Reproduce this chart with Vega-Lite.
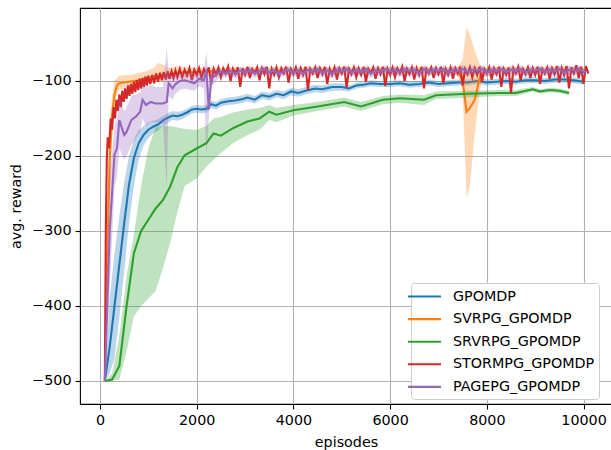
{
"$schema": "https://vega.github.io/schema/vega-lite/v6.json",
"width": 532, "height": 396,
"autosize": {"type": "none"},
"padding": {"left": 80, "top": 8, "right": 0, "bottom": 46},
"config": {
 "font": "DejaVu Sans",
 "view": {"stroke": "black", "strokeWidth": 1.1},
 "axis": {"grid": true, "gridColor": "#b0b0b0", "gridWidth": 1.1, "domain": false, "tickColor": "black", "tickWidth": 1.1, "tickSize": 5, "labelFontSize": 14.3, "labelColor": "black", "labelPadding": 4, "titleFontSize": 14.3, "titleFontWeight": "normal", "titleColor": "black"}
},
"datasets": {
 "gp": [
  {"x":100,"y":-500,"lo":-500,"hi":-500},{"x":200,"y":-455,"lo":-490,"hi":-390},{"x":300,"y":-400,"lo":-470,"hi":-330},{"x":400,"y":-345,"lo":-415,"hi":-280},{"x":500,"y":-290,"lo":-355,"hi":-235},{"x":600,"y":-238,"lo":-290,"hi":-200},{"x":700,"y":-203,"lo":-240,"hi":-178},{"x":800,"y":-183,"lo":-205,"hi":-166},{"x":900,"y":-172,"lo":-186,"hi":-160},{"x":1000,"y":-165,"lo":-176,"hi":-155},{"x":1100,"y":-161,"lo":-170,"hi":-153},{"x":1200,"y":-158,"lo":-166,"hi":-151},{"x":1300,"y":-153,"lo":-160,"hi":-147},{"x":1400,"y":-149,"lo":-156,"hi":-143},{"x":1500,"y":-146,"lo":-152,"hi":-140},{"x":1600,"y":-147,"lo":-153,"hi":-141},{"x":1700,"y":-145,"lo":-151,"hi":-140},{"x":1800,"y":-142,"lo":-147,"hi":-137},{"x":1900,"y":-138,"lo":-143,"hi":-133},{"x":2000,"y":-137,"lo":-142,"hi":-132},{"x":2100,"y":-138,"lo":-143,"hi":-133},{"x":2200,"y":-137,"lo":-142,"hi":-132},{"x":2300,"y":-131,"lo":-136,"hi":-126},{"x":2400,"y":-133,"lo":-138,"hi":-128},{"x":2500,"y":-129,"lo":-134,"hi":-124},{"x":2650,"y":-127,"lo":-132,"hi":-122},{"x":2800,"y":-126,"lo":-131,"hi":-121},{"x":2950,"y":-124,"lo":-129,"hi":-119},{"x":3050,"y":-122,"lo":-127,"hi":-117},{"x":3200,"y":-125,"lo":-130,"hi":-120},{"x":3350,"y":-119,"lo":-124,"hi":-114},{"x":3500,"y":-121,"lo":-126,"hi":-116},{"x":3650,"y":-117,"lo":-122,"hi":-112},{"x":3800,"y":-119,"lo":-124,"hi":-114},{"x":3950,"y":-114,"lo":-119,"hi":-109},{"x":4100,"y":-116,"lo":-121,"hi":-111},{"x":4250,"y":-113,"lo":-118,"hi":-108},{"x":4450,"y":-110,"lo":-115,"hi":-105},{"x":4600,"y":-111,"lo":-116,"hi":-106},{"x":4800,"y":-108,"lo":-113,"hi":-103},{"x":5000,"y":-108,"lo":-113,"hi":-103},{"x":5150,"y":-110,"lo":-114,"hi":-106},{"x":5300,"y":-106,"lo":-110,"hi":-102},{"x":5450,"y":-105,"lo":-109,"hi":-101},{"x":5600,"y":-103,"lo":-107,"hi":-99},{"x":5800,"y":-104,"lo":-108,"hi":-100},{"x":6000,"y":-104,"lo":-108,"hi":-100},{"x":6200,"y":-103,"lo":-107,"hi":-99},{"x":6400,"y":-105,"lo":-109,"hi":-101},{"x":6600,"y":-104,"lo":-108,"hi":-100},{"x":6800,"y":-102,"lo":-106,"hi":-98},{"x":7000,"y":-104,"lo":-108,"hi":-100},{"x":7200,"y":-103,"lo":-107,"hi":-99},{"x":7400,"y":-102,"lo":-106,"hi":-98},{"x":7600,"y":-102,"lo":-106,"hi":-98},{"x":7800,"y":-100,"lo":-104,"hi":-96},{"x":8000,"y":-102,"lo":-106,"hi":-98},{"x":8200,"y":-101,"lo":-105,"hi":-97},{"x":8400,"y":-100,"lo":-104,"hi":-96},{"x":8600,"y":-101,"lo":-105,"hi":-97},{"x":8800,"y":-99,"lo":-103,"hi":-95},{"x":9000,"y":-99,"lo":-103,"hi":-95},{"x":9200,"y":-100,"lo":-104,"hi":-96},{"x":9400,"y":-98,"lo":-102,"hi":-94},{"x":9600,"y":-98,"lo":-102,"hi":-94},{"x":9800,"y":-99,"lo":-103,"hi":-95},{"x":10000,"y":-101,"lo":-105,"hi":-97}
 ],
 "sv": [
  {"x":100,"y":-500,"lo":-500,"hi":-500},{"x":150,"y":-330,"lo":-400,"hi":-260},{"x":200,"y":-205,"lo":-260,"hi":-160},{"x":250,"y":-145,"lo":-175,"hi":-120},{"x":300,"y":-118,"lo":-135,"hi":-100},{"x":350,"y":-106,"lo":-118,"hi":-96},{"x":400,"y":-103,"lo":-112,"hi":-93},{"x":500,"y":-102,"lo":-110,"hi":-92},{"x":600,"y":-101,"lo":-109,"hi":-92},{"x":700,"y":-100,"lo":-108,"hi":-91},{"x":800,"y":-99,"lo":-106,"hi":-89},{"x":900,"y":-97,"lo":-105,"hi":-88},{"x":1000,"y":-96,"lo":-104,"hi":-86},{"x":1100,"y":-94,"lo":-102,"hi":-83},{"x":1200,"y":-93,"lo":-101,"hi":-76},{"x":1300,"y":-92,"lo":-100,"hi":-78},{"x":1400,"y":-91,"lo":-98,"hi":-82},{"x":1500,"y":-90,"lo":-97,"hi":-82},{"x":1600,"y":-89,"lo":-96,"hi":-80},{"x":1800,"y":-88,"lo":-95,"hi":-82},{"x":2000,"y":-88,"lo":-94,"hi":-82},{"x":2250,"y":-87,"lo":-93,"hi":-82},{"x":2500,"y":-88,"lo":-93,"hi":-83},{"x":2750,"y":-86,"lo":-91,"hi":-81},{"x":3000,"y":-87,"lo":-92,"hi":-82},{"x":3250,"y":-86,"lo":-91,"hi":-81},{"x":3500,"y":-87,"lo":-92,"hi":-82},{"x":3750,"y":-86,"lo":-91,"hi":-81},{"x":4000,"y":-87,"lo":-92,"hi":-82},{"x":4250,"y":-86,"lo":-91,"hi":-81},{"x":4500,"y":-86,"lo":-91,"hi":-81},{"x":4750,"y":-87,"lo":-92,"hi":-82},{"x":5000,"y":-86,"lo":-91,"hi":-81},{"x":5250,"y":-86,"lo":-91,"hi":-81},{"x":5500,"y":-87,"lo":-92,"hi":-82},{"x":5750,"y":-86,"lo":-91,"hi":-81},{"x":6000,"y":-86,"lo":-91,"hi":-81},{"x":6250,"y":-87,"lo":-92,"hi":-82},{"x":6500,"y":-86,"lo":-91,"hi":-81},{"x":6750,"y":-86,"lo":-91,"hi":-81},{"x":7000,"y":-87,"lo":-92,"hi":-82},{"x":7250,"y":-86,"lo":-91,"hi":-81},{"x":7400,"y":-87,"lo":-93,"hi":-80},{"x":7500,"y":-99,"lo":-112,"hi":-72},{"x":7580,"y":-141,"lo":-255,"hi":-28},{"x":7650,"y":-136,"lo":-240,"hi":-38},{"x":7750,"y":-125,"lo":-170,"hi":-60},{"x":7860,"y":-94,"lo":-110,"hi":-78},{"x":7950,"y":-88,"lo":-94,"hi":-82},{"x":8250,"y":-86,"lo":-91,"hi":-81},{"x":8500,"y":-86,"lo":-91,"hi":-81},{"x":8750,"y":-87,"lo":-92,"hi":-82},{"x":9000,"y":-86,"lo":-91,"hi":-81},{"x":9250,"y":-86,"lo":-91,"hi":-81},{"x":9500,"y":-85,"lo":-90,"hi":-80},{"x":9750,"y":-86,"lo":-91,"hi":-81},{"x":10000,"y":-85,"lo":-90,"hi":-80}
 ],
 "sr": [
  {"x":100,"y":-500,"lo":-500,"hi":-500},{"x":250,"y":-498,"lo":-500,"hi":-490},{"x":400,"y":-480,"lo":-498,"hi":-440},{"x":550,"y":-400,"lo":-460,"hi":-360},{"x":700,"y":-330,"lo":-414,"hi":-305},{"x":850,"y":-300,"lo":-400,"hi":-240},{"x":1000,"y":-285,"lo":-390,"hi":-190},{"x":1150,"y":-270,"lo":-380,"hi":-162},{"x":1300,"y":-259,"lo":-350,"hi":-160},{"x":1450,"y":-241,"lo":-316,"hi":-160},{"x":1600,"y":-215,"lo":-275,"hi":-162},{"x":1750,"y":-199,"lo":-240,"hi":-164},{"x":2000,"y":-190,"lo":-230,"hi":-165},{"x":2200,"y":-183,"lo":-214,"hi":-160},{"x":2350,"y":-170,"lo":-205,"hi":-150},{"x":2500,"y":-173,"lo":-196,"hi":-148},{"x":2750,"y":-163,"lo":-183,"hi":-142},{"x":3050,"y":-154,"lo":-172,"hi":-138},{"x":3300,"y":-150,"lo":-165,"hi":-136},{"x":3500,"y":-141,"lo":-152,"hi":-132},{"x":3650,"y":-145,"lo":-155,"hi":-136},{"x":4000,"y":-139,"lo":-146,"hi":-132},{"x":4500,"y":-134,"lo":-140,"hi":-128},{"x":5050,"y":-128,"lo":-134,"hi":-122},{"x":5400,"y":-134,"lo":-140,"hi":-128},{"x":5850,"y":-125,"lo":-131,"hi":-120},{"x":6200,"y":-123,"lo":-129,"hi":-118},{"x":6700,"y":-125,"lo":-132,"hi":-119},{"x":6950,"y":-119,"lo":-124,"hi":-114},{"x":7600,"y":-117,"lo":-122,"hi":-113},{"x":8250,"y":-116,"lo":-120,"hi":-112},{"x":8600,"y":-116,"lo":-120,"hi":-112},{"x":8950,"y":-111,"lo":-114,"hi":-108},{"x":9100,"y":-114,"lo":-117,"hi":-111},{"x":9300,"y":-112,"lo":-115,"hi":-109},{"x":9500,"y":-113,"lo":-116,"hi":-110},{"x":9700,"y":-116,"lo":-119,"hi":-113}
 ],
 "st": [
  {"x":100,"y":-500},{"x":120,"y":-300},{"x":140,"y":-205},{"x":160,"y":-175},{"x":190,"y":-190},{"x":220,"y":-150},{"x":250,"y":-165},{"x":280,"y":-135},{"x":310,"y":-150},{"x":340,"y":-125},{"x":370,"y":-140},{"x":400,"y":-118},{"x":430,"y":-135},{"x":460,"y":-113},{"x":490,"y":-128},{"x":520,"y":-110},{"x":550,"y":-124},{"x":580,"y":-106},{"x":610,"y":-120},{"x":640,"y":-104},{"x":670,"y":-117},{"x":700,"y":-101},{"x":730,"y":-115},{"x":760,"y":-99},{"x":790,"y":-112},{"x":820,"y":-97},{"x":850,"y":-110},{"x":880,"y":-96},{"x":910,"y":-108},{"x":940,"y":-94},{"x":970,"y":-106},{"x":1000,"y":-93},{"x":1040,"y":-104},{"x":1080,"y":-92},{"x":1120,"y":-103},{"x":1160,"y":-90},{"x":1200,"y":-101},{"x":1240,"y":-89},{"x":1280,"y":-99},{"x":1320,"y":-88},{"x":1360,"y":-98},{"x":1400,"y":-87},{"x":1440,"y":-97},{"x":1480,"y":-87},{"x":1520,"y":-96},{"x":1560,"y":-86},{"x":1600,"y":-95},
  {"x":1650,"y":-84},{"x":1700,"y":-95},{"x":1750,"y":-85},{"x":1800,"y":-93},{"x":1850,"y":-83},{"x":1900,"y":-99},{"x":1950,"y":-85},{"x":2000,"y":-92},
  {"x":2050,"y":-83},{"x":2100,"y":-96},{"x":2150,"y":-84},{"x":2200,"y":-91},{"x":2250,"y":-82},{"x":2300,"y":-104},{"x":2350,"y":-84},{"x":2400,"y":-92},
  {"x":2450,"y":-82},{"x":2500,"y":-95},{"x":2550,"y":-83},{"x":2600,"y":-90},{"x":2650,"y":-81},{"x":2700,"y":-100},{"x":2750,"y":-84},{"x":2800,"y":-91},
  {"x":2850,"y":-82},{"x":2900,"y":-108},{"x":2950,"y":-83},{"x":3000,"y":-92},{"x":3050,"y":-81},{"x":3100,"y":-96},{"x":3150,"y":-84},{"x":3200,"y":-90},
  {"x":3250,"y":-82},{"x":3300,"y":-99},{"x":3350,"y":-83},{"x":3400,"y":-91},{"x":3450,"y":-81},{"x":3500,"y":-110},{"x":3550,"y":-84},{"x":3600,"y":-92},
  {"x":3650,"y":-82},{"x":3700,"y":-95},{"x":3750,"y":-83},{"x":3800,"y":-90},{"x":3850,"y":-81},{"x":3900,"y":-102},{"x":3950,"y":-84},{"x":4000,"y":-91},
  {"x":4050,"y":-82},{"x":4100,"y":-97},{"x":4150,"y":-83},{"x":4200,"y":-92},{"x":4250,"y":-81},{"x":4300,"y":-112},{"x":4350,"y":-84},{"x":4400,"y":-90},
  {"x":4450,"y":-82},{"x":4500,"y":-96},{"x":4550,"y":-83},{"x":4600,"y":-91},{"x":4650,"y":-81},{"x":4700,"y":-104},{"x":4750,"y":-84},{"x":4800,"y":-92},
  {"x":4850,"y":-82},{"x":4900,"y":-98},{"x":4950,"y":-83},{"x":5000,"y":-90},{"x":5050,"y":-81},{"x":5100,"y":-109},{"x":5150,"y":-84},{"x":5200,"y":-91},
  {"x":5250,"y":-82},{"x":5300,"y":-95},{"x":5350,"y":-83},{"x":5400,"y":-92},{"x":5450,"y":-81},{"x":5500,"y":-101},{"x":5550,"y":-84},{"x":5600,"y":-90},
  {"x":5650,"y":-82},{"x":5700,"y":-97},{"x":5750,"y":-83},{"x":5800,"y":-91},{"x":5850,"y":-81},{"x":5900,"y":-107},{"x":5950,"y":-84},{"x":6000,"y":-92},
  {"x":6050,"y":-82},{"x":6100,"y":-95},{"x":6150,"y":-83},{"x":6200,"y":-90},{"x":6250,"y":-81},{"x":6300,"y":-100},{"x":6350,"y":-84},{"x":6400,"y":-91},
  {"x":6450,"y":-82},{"x":6500,"y":-98},{"x":6550,"y":-83},{"x":6600,"y":-92},{"x":6650,"y":-81},{"x":6700,"y":-110},{"x":6750,"y":-84},{"x":6800,"y":-90},
  {"x":6850,"y":-82},{"x":6900,"y":-96},{"x":6950,"y":-83},{"x":7000,"y":-91},{"x":7050,"y":-81},{"x":7100,"y":-103},{"x":7150,"y":-84},{"x":7200,"y":-92},
  {"x":7250,"y":-82},{"x":7300,"y":-97},{"x":7350,"y":-83},{"x":7400,"y":-90},{"x":7450,"y":-81},{"x":7500,"y":-106},{"x":7550,"y":-84},{"x":7600,"y":-91},
  {"x":7650,"y":-82},{"x":7700,"y":-95},{"x":7750,"y":-83},{"x":7800,"y":-92},{"x":7850,"y":-81},{"x":7900,"y":-101},{"x":7950,"y":-84},{"x":8000,"y":-90},
  {"x":8050,"y":-82},{"x":8100,"y":-98},{"x":8150,"y":-83},{"x":8200,"y":-91},{"x":8250,"y":-81},{"x":8300,"y":-108},{"x":8350,"y":-84},{"x":8400,"y":-92},
  {"x":8450,"y":-82},{"x":8500,"y":-116},{"x":8550,"y":-83},{"x":8600,"y":-90},{"x":8650,"y":-81},{"x":8700,"y":-99},{"x":8750,"y":-84},{"x":8800,"y":-91},
  {"x":8850,"y":-82},{"x":8900,"y":-96},{"x":8950,"y":-83},{"x":9000,"y":-92},{"x":9050,"y":-81},{"x":9100,"y":-104},{"x":9150,"y":-84},{"x":9200,"y":-90},
  {"x":9250,"y":-82},{"x":9300,"y":-97},{"x":9350,"y":-83},{"x":9400,"y":-91},{"x":9450,"y":-80},{"x":9500,"y":-102},{"x":9550,"y":-83},{"x":9600,"y":-92},
  {"x":9650,"y":-80},{"x":9700,"y":-110},{"x":9750,"y":-82},{"x":9800,"y":-90},{"x":9850,"y":-79},{"x":9900,"y":-96},{"x":9950,"y":-81},{"x":10000,"y":-104},
  {"x":10050,"y":-80},{"x":10100,"y":-90}
 ],
 "pg": [
  {"x":100,"y":-500,"lo":-500,"hi":-500},{"x":200,"y":-300,"lo":-380,"hi":-230},{"x":300,"y":-198,"lo":-240,"hi":-160},{"x":350,"y":-190,"lo":-230,"hi":-150},{"x":400,"y":-152,"lo":-190,"hi":-120},{"x":500,"y":-172,"lo":-205,"hi":-140},{"x":550,"y":-168,"lo":-200,"hi":-135},{"x":650,"y":-152,"lo":-185,"hi":-120},{"x":750,"y":-147,"lo":-175,"hi":-118},{"x":830,"y":-141,"lo":-168,"hi":-115},{"x":880,"y":-125,"lo":-150,"hi":-105},{"x":950,"y":-132,"lo":-160,"hi":-108},{"x":1050,"y":-128,"lo":-155,"hi":-105},{"x":1150,"y":-130,"lo":-155,"hi":-108},{"x":1300,"y":-130,"lo":-155,"hi":-108},{"x":1380,"y":-128,"lo":-241,"hi":-57},{"x":1420,"y":-103,"lo":-120,"hi":-88},{"x":1500,"y":-110,"lo":-125,"hi":-95},{"x":1550,"y":-105,"lo":-118,"hi":-92},{"x":1650,"y":-100,"lo":-112,"hi":-90},{"x":1750,"y":-99,"lo":-110,"hi":-89},{"x":1850,"y":-101,"lo":-112,"hi":-90},{"x":1950,"y":-103,"lo":-113,"hi":-92},{"x":2050,"y":-97,"lo":-107,"hi":-88},{"x":2150,"y":-99,"lo":-110,"hi":-88},{"x":2200,"y":-85,"lo":-201,"hi":-61},{"x":2250,"y":-138,"lo":-150,"hi":-100},{"x":2300,"y":-97,"lo":-108,"hi":-86},{"x":2400,"y":-92,"lo":-100,"hi":-84},{"x":2500,"y":-88,"lo":-94,"hi":-83},{"x":2600,"y":-90,"lo":-96,"hi":-85},{"x":2700,"y":-87,"lo":-93,"hi":-82},{"x":2800,"y":-91,"lo":-97,"hi":-86},{"x":2900,"y":-86,"lo":-92,"hi":-81},{"x":3000,"y":-89,"lo":-95,"hi":-84},{"x":3100,"y":-85,"lo":-91,"hi":-80},{"x":3200,"y":-90,"lo":-96,"hi":-85},{"x":3300,"y":-87,"lo":-93,"hi":-82},{"x":3400,"y":-84,"lo":-90,"hi":-79},{"x":3500,"y":-89,"lo":-95,"hi":-84},{"x":3600,"y":-86,"lo":-92,"hi":-81},{"x":3700,"y":-91,"lo":-97,"hi":-86},{"x":3800,"y":-87,"lo":-93,"hi":-82},{"x":3900,"y":-85,"lo":-91,"hi":-80},{"x":4000,"y":-89,"lo":-95,"hi":-84},{"x":4100,"y":-86,"lo":-92,"hi":-81},{"x":4200,"y":-90,"lo":-96,"hi":-85},{"x":4300,"y":-85,"lo":-91,"hi":-80},{"x":4400,"y":-88,"lo":-94,"hi":-83},{"x":4500,"y":-84,"lo":-90,"hi":-79},{"x":4600,"y":-89,"lo":-95,"hi":-84},{"x":4700,"y":-86,"lo":-92,"hi":-81},{"x":4800,"y":-91,"lo":-97,"hi":-86},{"x":4900,"y":-85,"lo":-91,"hi":-80},{"x":5000,"y":-87,"lo":-93,"hi":-82},{"x":5100,"y":-84,"lo":-90,"hi":-79},{"x":5200,"y":-89,"lo":-95,"hi":-84},{"x":5300,"y":-85,"lo":-91,"hi":-80},{"x":5400,"y":-88,"lo":-94,"hi":-83},{"x":5500,"y":-84,"lo":-90,"hi":-79},{"x":5600,"y":-90,"lo":-96,"hi":-85},{"x":5700,"y":-86,"lo":-92,"hi":-81},{"x":5800,"y":-88,"lo":-94,"hi":-83},{"x":5900,"y":-84,"lo":-90,"hi":-79},{"x":6000,"y":-87,"lo":-93,"hi":-82},{"x":6100,"y":-85,"lo":-91,"hi":-80},{"x":6200,"y":-89,"lo":-95,"hi":-84},{"x":6300,"y":-84,"lo":-90,"hi":-79},{"x":6400,"y":-87,"lo":-93,"hi":-82},{"x":6500,"y":-85,"lo":-91,"hi":-80},{"x":6600,"y":-90,"lo":-96,"hi":-85},{"x":6700,"y":-84,"lo":-90,"hi":-79},{"x":6800,"y":-88,"lo":-94,"hi":-83},{"x":6900,"y":-85,"lo":-91,"hi":-80},{"x":7000,"y":-87,"lo":-93,"hi":-82},{"x":7100,"y":-84,"lo":-90,"hi":-79},{"x":7200,"y":-89,"lo":-95,"hi":-84},{"x":7300,"y":-85,"lo":-91,"hi":-80},{"x":7400,"y":-87,"lo":-93,"hi":-82},{"x":7500,"y":-84,"lo":-90,"hi":-79},{"x":7600,"y":-88,"lo":-94,"hi":-83},{"x":7700,"y":-85,"lo":-91,"hi":-80},{"x":7800,"y":-86,"lo":-92,"hi":-81},{"x":7900,"y":-84,"lo":-90,"hi":-79},{"x":8000,"y":-89,"lo":-95,"hi":-84},{"x":8100,"y":-85,"lo":-91,"hi":-80},{"x":8200,"y":-87,"lo":-93,"hi":-82},{"x":8300,"y":-84,"lo":-90,"hi":-79},{"x":8400,"y":-88,"lo":-94,"hi":-83},{"x":8500,"y":-85,"lo":-91,"hi":-80},{"x":8600,"y":-87,"lo":-93,"hi":-82},{"x":8700,"y":-84,"lo":-90,"hi":-79},{"x":8800,"y":-89,"lo":-95,"hi":-84},{"x":8900,"y":-85,"lo":-91,"hi":-80},{"x":9000,"y":-86,"lo":-92,"hi":-81},{"x":9100,"y":-84,"lo":-90,"hi":-79},{"x":9200,"y":-88,"lo":-94,"hi":-83},{"x":9300,"y":-85,"lo":-91,"hi":-80},{"x":9400,"y":-87,"lo":-93,"hi":-82},{"x":9500,"y":-84,"lo":-90,"hi":-79},{"x":9600,"y":-89,"lo":-95,"hi":-84},{"x":9700,"y":-85,"lo":-91,"hi":-80},{"x":9800,"y":-86,"lo":-92,"hi":-81},{"x":9900,"y":-84,"lo":-90,"hi":-79},{"x":10000,"y":-88,"lo":-94,"hi":-83},{"x":10050,"y":-87,"lo":-93,"hi":-82}
 ]
},
"encoding": {
 "x": {"field": "x", "type": "quantitative", "scale": {"domain": [-413.7, 10589], "nice": false, "zero": false}, "axis": {"values": [0, 2000, 4000, 6000, 8000, 10000], "format": "d", "title": "episodes", "titlePadding": 8}},
 "y": {"field": "y", "type": "quantitative", "scale": {"domain": [-530.7, -2.7], "nice": false, "zero": false}, "axis": {"values": [-500, -400, -300, -200, -100], "format": "d", "title": "avg. reward", "titlePadding": 8}}
},
"layer": [
 {"data": {"name": "gp"}, "mark": {"type": "area", "color": "#1f77b4", "opacity": 0.3}, "encoding": {"y": {"field": "lo", "type": "quantitative"}, "y2": {"field": "hi"}}},
 {"data": {"name": "gp"}, "mark": {"type": "line", "strokeWidth": 2.1}, "encoding": {"color": {"datum": "GPOMDP", "type": "nominal", "scale": {"domain": ["GPOMDP", "SVRPG_GPOMDP", "SRVRPG_GPOMDP", "STORMPG_GPOMDP", "PAGEPG_GPOMDP"], "range": ["#1f77b4", "#ff7f0e", "#2ca02c", "#d62728", "#9467bd"]}, "legend": {"title": null, "orient": "none", "legendX": 331, "legendY": 275, "symbolType": "M-2,0H2", "symbolSize": 272, "symbolStrokeWidth": 2.1, "labelFontSize": 14.3, "labelColor": "black", "labelOffset": 19, "padding": 4, "rowPadding": 5.6, "strokeColor": "#cccccc", "fillColor": "#ffffff", "cornerRadius": 3}}}},
 {"data": {"name": "sv"}, "mark": {"type": "area", "color": "#ff7f0e", "opacity": 0.3}, "encoding": {"y": {"field": "lo", "type": "quantitative"}, "y2": {"field": "hi"}}},
 {"data": {"name": "sv"}, "mark": {"type": "line", "strokeWidth": 2.1}, "encoding": {"color": {"datum": "SVRPG_GPOMDP", "type": "nominal"}}},
 {"data": {"name": "sr"}, "mark": {"type": "area", "color": "#2ca02c", "opacity": 0.3}, "encoding": {"y": {"field": "lo", "type": "quantitative"}, "y2": {"field": "hi"}}},
 {"data": {"name": "sr"}, "mark": {"type": "line", "strokeWidth": 2.1}, "encoding": {"color": {"datum": "SRVRPG_GPOMDP", "type": "nominal"}}},
 {"data": {"name": "st"}, "mark": {"type": "line", "strokeWidth": 2.1}, "encoding": {"color": {"datum": "STORMPG_GPOMDP", "type": "nominal"}}},
 {"data": {"name": "pg"}, "mark": {"type": "area", "color": "#9467bd", "opacity": 0.3}, "encoding": {"y": {"field": "lo", "type": "quantitative"}, "y2": {"field": "hi"}}},
 {"data": {"name": "pg"}, "mark": {"type": "line", "strokeWidth": 2.1}, "encoding": {"color": {"datum": "PAGEPG_GPOMDP", "type": "nominal"}}}
]
}
